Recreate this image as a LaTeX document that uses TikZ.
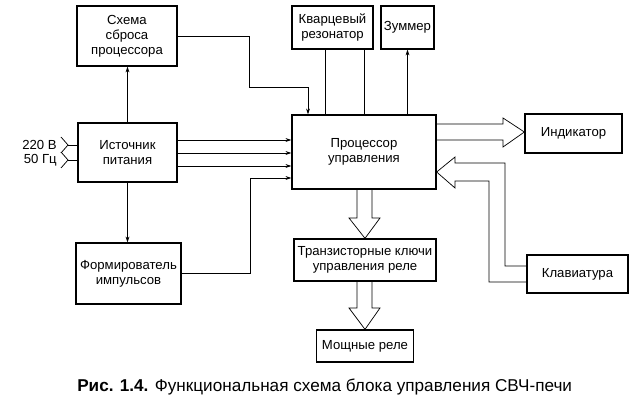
\documentclass[tikz,border=0pt]{standalone}
\usepackage{fontspec}
\setmainfont{Liberation Sans}
\usetikzlibrary{arrows.meta,calc}

\begin{document}
\begin{tikzpicture}[x=0.7pt,y=-0.7pt,>={Stealth[length=4pt,width=2.6pt]},
    blk/.style 2 args={draw,line width=0.9pt,minimum width=#1*0.7pt,minimum height=#2*0.7pt,
      align=center,inner sep=1pt,font=\fontsize{9.2}{10.4}\selectfont},
    lnk/.style={line width=0.5pt}]
    \useasboundingbox (0,0) rectangle (640,400);
    \node[blk={100}{60}] (sbros) at (127,36) {Схема\\сброса\\процессора};
    \node[blk={99}{59}] (ist) at (127.5,152.5) {Источник\\питания};
    \node[blk={105}{61}] (form) at (128.5,273.5) {Формирователь\\импульсов};
    \node[blk={144}{74}] (proc) at (364,152) {Процессор\\управления};
    \node[blk={81}{43}] (kvarc) at (332.5,27.5) {Кварцевый\\резонатор};
    \node[blk={53}{43}] (zumm) at (407.5,27.5) {Зуммер};
    \node[blk={97}{39}] (ind) at (573.5,133.5) {Индикатор};
    \node[blk={101}{38}] (klav) at (577.5,274) {Клавиатура};
    \node[blk={142}{42}] (tranz) at (365,260) {Транзисторные ключи\\управления реле};
    \node[blk={97}{32}] (mosch) at (365,346) {Мощные реле};
    % сеть
    \node[anchor=east,inner sep=0pt,font=\fontsize{9.2}{10.4}\selectfont] (v220) at (57,145) {220 В};
    \node[anchor=east,inner sep=0pt,font=\fontsize{9.2}{10.4}\selectfont] (hz50) at (57,160) {50 Гц};
    \coordinate (in1) at (68,145);
    \coordinate (in2) at (68,160);
    \draw[lnk] (61,137) -- (in1) -- (61,153);
    \draw[lnk] (61,152) -- (in2) -- (61,168);
    \draw[lnk] (in1) -- (in1 -| ist.west);
    \draw[lnk] (in2) -- (in2 -| ist.west);
    % питание
    \draw[lnk,->] (ist.north) -- (ist.north |- sbros.south);
    \draw[lnk,->] (ist.south) -- (ist.south |- form.north);
    \foreach \d in {-12.5,0.5,13.5} {
      \coordinate (p) at ($(ist.east)+(0,\d)$);
      \draw[lnk,->] (p) -- (p -| proc.west);
    }
    \draw[lnk,->] (form.east) -| (250,178) -- (proc.west |- 0,178);
    \draw[lnk,->] (sbros.east) -| (249,87) -| (proc.north -| 308,0);
    \foreach \x in {325,364}
      \draw[lnk] (kvarc.south -| \x,0) -- (proc.north -| \x,0);
    \draw[lnk,->] (proc.north -| zumm.south) -- (zumm.south);
    % шины
    \draw[lnk] (proc.east |- 0,124) -- (503,124) -- (503,118) -- (ind.west |- 0,132)
      -- (503,147) -- (503,140) -- (proc.east |- 0,140);
    \draw[lnk] (klav.west |- 0,266) -- (505,266) -- (505,163) -- (455,163) -- (455,157)
      -- (proc.east |- 0,172) -- (455,188) -- (455,181) -- (489,181) -- (489,282) -- (klav.west |- 0,282);
    \draw[lnk] (proc.south -| 357,0) -- (357,218) -- (349,218) -- (tranz.north -| 365,0)
      -- (380,218) -- (372,218) -- (proc.south -| 372,0);
    \draw[lnk] (tranz.south -| 357,0) -- (357,308) -- (349,308) -- (mosch.north -| 365,0)
      -- (380,308) -- (372,308) -- (tranz.south -| 372,0);
    % подпись
    \node[font=\fontsize{12}{14}\selectfont,anchor=west,inner sep=0pt] (cap) at (77,387)
      {\textbf{Рис. 1.4.} Функциональная схема блока управления СВЧ-печи};
  \end{tikzpicture}
\end{document}
